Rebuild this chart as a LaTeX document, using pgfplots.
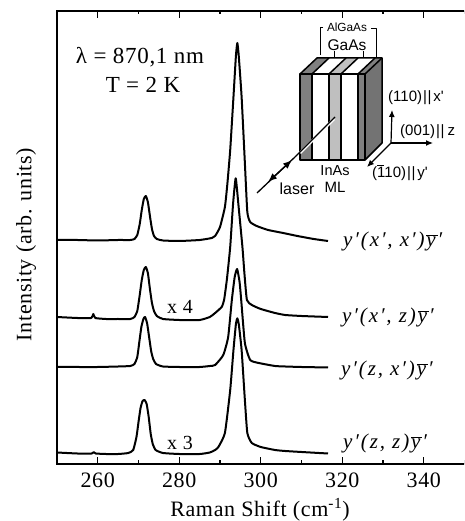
\documentclass[border=0pt]{standalone}
\usepackage{fontspec}
\setmainfont{Liberation Serif}
\newfontfamily\sansf{Liberation Sans}
\newfontfamily\spf[LetterSpace=3]{Liberation Serif}
\newfontfamily\spi[LetterSpace=9]{Liberation Serif}
\usepackage{pgfplots}
\pgfplotsset{compat=1.18}
\usetikzlibrary{arrows.meta}
\newcommand{\ybar}{$\overline{\mbox{\textit{y}}}$}
\begin{document}
\begin{tikzpicture}[x=1pt,y=1pt,lww/.style={line width=1.5pt}]
\useasboundingbox (0,0) rectangle (464,521);
\clip (0,0) rectangle (464,521);
\begin{axis}[
 at={(57pt,57pt)},anchor=south west,scale only axis,
 width=411.6pt,height=453pt,
 xmin=250,xmax=351,ymin=0,ymax=453,
 xtick={260,280,300,320,340},minor xtick={270,290,310,330,350},
 ytick=\empty,
 tick align=inside,
 major tick length=7pt,minor tick length=3.5pt,
 tick style={black,line width=1.3pt},
 axis line style={line width=1.6pt},
 every x tick/.style={black,line width=1.3pt},
 every minor x tick/.style={black,line width=1.3pt},
 x tick label style={font=\spf\fontsize{22}{22}\selectfont,yshift=-5pt},
 /pgf/number format/assume math mode=true,
 xlabel={Raman Shift (cm\textsuperscript{-1})},
 xlabel style={font=\spf\fontsize{22}{22}\selectfont,at={(axis description cs:0.493,0)},anchor=center,yshift=-46pt},
 ylabel={Intensity (arb. units)},
 ylabel style={font=\spf\fontsize{22}{22}\selectfont,at={(axis description cs:0,0.4845)},anchor=center,yshift=31pt},
 clip=false,
]
\addplot[black,line width=2pt,line join=round,smooth,tension=0.3] coordinates {
(250,224)(255,224)(260,223.5)(265,224)(268,224)(269,225)(269.7,229)(270.3,240)(270.8,254)(271.3,265)(271.8,268)(272.3,262)(272.8,248)(273.3,235)(273.8,228)(274.5,225)(276,223.5)(280,223)(285,224)(288,226)(288.8,228)(290,237)(291.2,257)(291.8,280)(292.5,314)(293.3,367)(293.9,408)(294.25,421)(294.6,408)(295.3,367)(296.1,301)(296.7,252)(297.4,242)(299,238)(301.8,234)(305.5,231)(309,228)(313,225)(316.5,223)};
\addplot[black,line width=2pt,line join=round,smooth,tension=0.3] coordinates {
(250,147)(255,146)(258.4,146)(258.9,150)(259.4,146)(262,145)(265,145)(268,145)(269,147)(269.7,153)(270.3,169)(270.8,184)(271.3,194)(271.8,197)(272.3,191)(272.8,175)(273.3,161)(273.8,153)(274.5,148)(276,145)(280,144)(285,144)(287.5,147)(288.8,151)(290.4,157)(291,164)(291.7,185)(292.5,217)(293.2,260)(293.85,285.7)(294.5,260)(295.5,217)(296,190)(296.6,164)(297.8,159)(300,155)(303.5,151)(306,149)(310,148)(316.5,147)};
\addplot[black,line width=2pt,line join=round,smooth,tension=0.3] coordinates {
(250,97)(255,97)(260,97)(265,97.5)(268,98)(269,100)(269.7,107)(270.2,122)(270.7,137)(271.2,145)(271.6,147)(272.1,141)(272.6,127)(273.1,113)(273.6,105)(274.3,100)(276,97.5)(280,97)(285,97)(287.5,98)(288.8,99)(290.8,109)(292,127)(292.9,164)(293.6,187)(294.2,195)(294.8,182)(295.2,164)(296.1,121)(297.4,104)(299.5,101)(303.5,98)(306,97.5)(310,97)(316.5,96.5)};
\addplot[black,line width=2pt,line join=round,smooth,tension=0.3] coordinates {
(250,11.5)(255,10.5)(258.5,10.5)(259,12)(259.5,10.5)(262,10)(265,10)(267.5,11)(268.7,14)(269.5,27)(270,42)(270.5,56)(271,63)(271.5,64)(272,60)(272.5,47)(273,30)(273.5,20)(274.2,14)(276,11)(280,10)(285,10)(287.5,11.5)(288.8,14)(289.6,17)(291.2,31)(292.5,74)(293.3,114)(293.9,140)(294.25,145.7)(294.6,140)(295.3,114)(296.1,64)(296.7,31)(297.8,21)(300,17)(303.5,14)(306,13)(310,12)(316.5,10.5)};
\end{axis}
\begin{scope}[shift={(0,521)},x=1pt,y=-1pt,line join=round]
\node[font=\spf\fontsize{23}{23}\selectfont] at (140,57) {λ = 870,1 nm};
\node[font=\spf\fontsize{23}{23}\selectfont] at (143,85) {T = 2 K};
\node[font=\spf\fontsize{20}{20}\selectfont] at (180,307) {x 4};
\node[font=\spf\fontsize{20}{20}\selectfont] at (180,443) {x 3};
\def\pr{′}
\node[anchor=west,inner sep=0pt,font=\spi\fontsize{21}{21}\selectfont] at (343,241) {\textit{y\pr(x\pr, x\pr)}\ybar\textit{\pr}};
\node[anchor=west,inner sep=0pt,font=\spi\fontsize{21}{21}\selectfont] at (342,317) {\textit{y\pr(x\pr, z)}\ybar\textit{\pr}};
\node[anchor=west,inner sep=0pt,font=\spi\fontsize{21}{21}\selectfont] at (341,370) {\textit{y\pr(z, x\pr)}\ybar\textit{\pr}};
\node[anchor=west,inner sep=0pt,font=\spi\fontsize{21}{21}\selectfont] at (343,443) {\textit{y\pr(z, z)}\ybar\textit{\pr}};
\fill[gray!90!black] (365,74)--(382,58)--(382,143)--(365,160)--cycle;
\fill[gray] (358,74)--(365,74)--(382,58)--(375,58)--cycle;
\fill[white] (341,74)--(358,74)--(375,58)--(358,58)--cycle;
\fill[black!25] (329,74)--(341,74)--(358,58)--(346,58)--cycle;
\fill[white] (312,74)--(329,74)--(346,58)--(329,58)--cycle;
\fill[gray] (300,74)--(312,74)--(329,58)--(317,58)--cycle;
\fill[gray] (300,74) rectangle (312,160);
\fill[black!25] (329,74) rectangle (341,160);
\fill[gray] (358,74) rectangle (365,160);
\draw[lww] (300,74) rectangle (365,160);
\draw[lww] (300,74)--(317,58)--(382,58)--(382,143)--(365,160);
\draw[lww] (365,74)--(382,58);
\foreach \a in {312,329,341,358} {\draw[lww] (\a,74)--(\a,160); \draw[lww] (\a,74)--(\a+17,58);}
\draw[white,line width=2.6pt] (334,119)--(300,153);
\draw[black,line width=1.1pt] (335,117)--(295,157);
\draw[black,line width=1.3pt,{Latex[length=9pt,width=7pt]}-{Latex[length=9pt,width=7pt]}] (268,182)--(292,160);
\draw[black,line width=1.3pt] (257,193)--(295,157);
\draw[line width=0.8pt] (323,27)--(320,27)--(320,55);
\draw[line width=0.8pt] (371,28)--(376,28)--(376,57);
\draw[line width=0.8pt] (334,51)--(334,57) (363,51)--(363,57);
\draw[line width=1.2pt,-{Latex[length=7pt,width=6pt]}] (391,143)--(392,110);
\draw[line width=1.2pt,-{Latex[length=7pt,width=6pt]}] (391,143)--(433,143);
\draw[line width=1.2pt,-{Latex[length=7pt,width=6pt]}] (391,143)--(367,167);
\node[font=\sansf\fontsize{11.8}{12}\selectfont] at (347,27) {AlGaAs};
\node[font=\sansf\fontsize{15.5}{16}\selectfont] at (347,45) {GaAs};
\node[font=\sansf\fontsize{14.5}{15}\selectfont] at (335,171) {InAs};
\node[font=\sansf\fontsize{15}{15}\selectfont] at (335,187) {ML};
\node[font=\sansf\fontsize{16}{16}\selectfont] at (297,189) {laser};
\node[anchor=west,inner sep=0pt,font=\sansf\fontsize{15}{15}\selectfont] at (388,98) {(110)\kern1pt|\kern0.6pt|\kern2pt x'};
\node[anchor=west,inner sep=0pt,font=\sansf\fontsize{15}{15}\selectfont] at (400,132) {(001)\kern1pt|\kern0.6pt|\kern3pt z};
\node[anchor=west,inner sep=0pt,font=\sansf\fontsize{15}{15}\selectfont] at (372,173) {(\rlap{\raisebox{11.5pt}{\rule{7pt}{0.7pt}}}110)\kern1pt|\kern0.6pt|\kern2pt y'};
\end{scope}
\end{tikzpicture}
\end{document}
